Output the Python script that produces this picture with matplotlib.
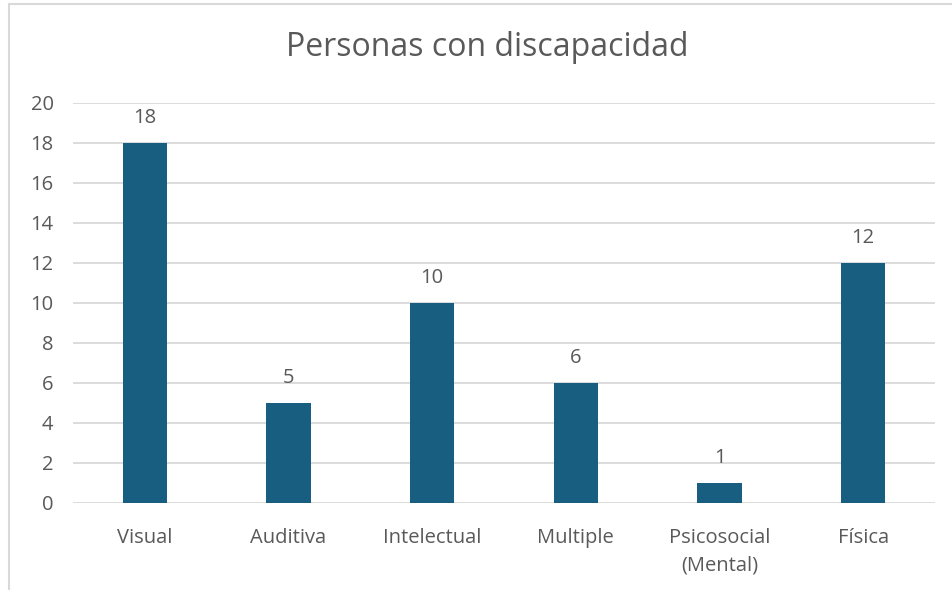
import matplotlib.pyplot as plt
from matplotlib.patches import Rectangle

plt.rcParams['font.family'] = ['Open Sans', 'DejaVu Sans']

# Data
categorias = ["Visual", "Auditiva", "Intelectual", "Multiple", "Psicosocial\n(Mental)", "Física"]
valores = [18, 5, 10, 6, 1, 12]

texto = "#595959"
barra = "#175e80"

fig = plt.figure(figsize=(9.52, 5.90), dpi=100)
ax = fig.add_axes([73 / 952, 1 - 503 / 590, 862 / 952, 400 / 590])

x = range(len(categorias))
bars = ax.bar(x, valores, width=0.31, color=barra, zorder=3)
for b, v in zip(bars, valores):
    ax.annotate(str(v), (b.get_x() + b.get_width() / 2, v), xytext=(0, 18),
                textcoords="offset points", ha="center", va="center",
                fontsize=14.5, color=texto)

ax.set_xlim(-0.5, len(categorias) - 0.5)
ax.set_ylim(0, 20)
ax.set_yticks(range(0, 21, 2))
ax.set_xticks(list(x))
ax.set_xticklabels(categorias, fontsize=14.5, color=texto, linespacing=1.5)
ax.tick_params(axis="y", labelsize=14.5, labelcolor=texto, length=0, pad=14)
ax.tick_params(axis="x", length=0, pad=18)
ax.grid(axis="y", color="#d9d9d9", linewidth=1.3, zorder=0)
for s in ax.spines.values():
    s.set_visible(False)

fig.text(487 / 952, 1 - 48 / 590, "Personas con discapacidad", ha="center", va="center",
         fontsize=23, color=texto)

# chart border (partly cropped in the reference)
fig.patches.append(Rectangle((9 / 952, -0.1), 1.2, 1 - 4 / 590 + 0.1, transform=fig.transFigure,
                             fill=False, edgecolor="#d9d9d9", linewidth=1.5))

fig.savefig("out.png", dpi=100)
